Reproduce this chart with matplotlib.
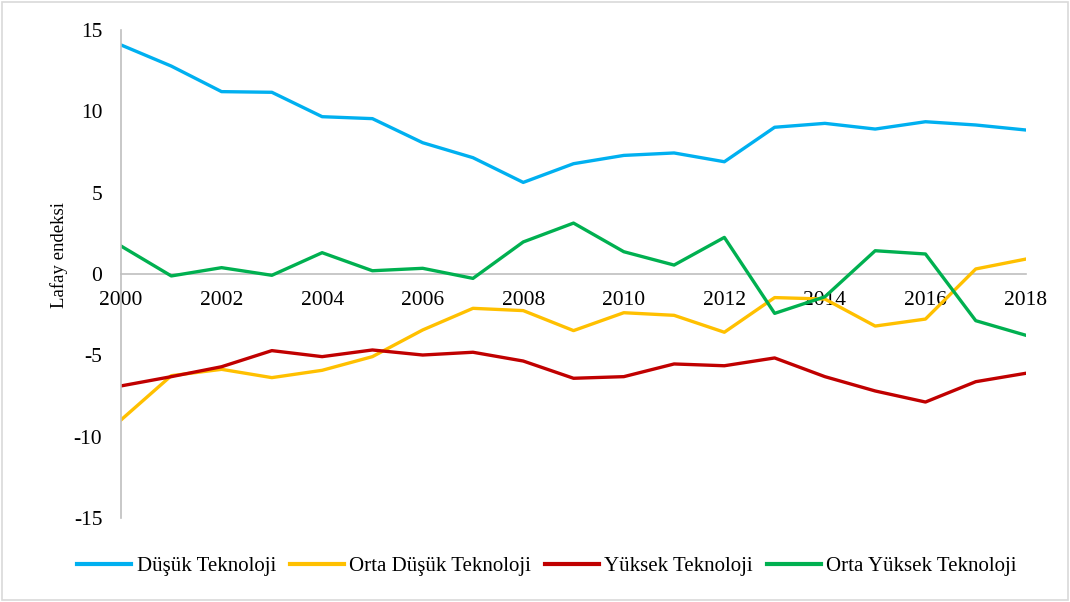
import matplotlib
matplotlib.use("Agg")
import matplotlib.pyplot as plt
from matplotlib.patches import Rectangle

years = list(range(2000, 2019))
dusuk = [14.08, 12.78, 11.21, 11.17, 9.67, 9.55, 8.07, 7.15, 5.63, 6.78,
         7.29, 7.44, 6.90, 9.02, 9.26, 8.91, 9.36, 9.16, 8.85]
orta_dusuk = [-8.97, -6.25, -5.86, -6.37, -5.92, -5.08, -3.44, -2.11, -2.25, -3.48,
              -2.38, -2.54, -3.58, -1.45, -1.54, -3.20, -2.77, 0.31, 0.92]
yuksek = [-6.88, -6.31, -5.70, -4.71, -5.08, -4.67, -4.98, -4.81, -5.35, -6.41,
          -6.31, -5.53, -5.64, -5.16, -6.31, -7.19, -7.87, -6.62, -6.10]
orta_yuksek = [1.72, -0.12, 0.39, -0.08, 1.31, 0.20, 0.35, -0.27, 1.97, 3.13,
               1.37, 0.55, 2.25, -2.42, -1.40, 1.43, 1.23, -2.87, -3.77]

series_names = ["Düşük Teknoloji", "Orta Düşük Teknoloji", "Yüksek Teknoloji", "Orta Yüksek Teknoloji"]
colors = ["#00B0F0", "#FFC000", "#C00000", "#00B050"]
xticks = list(range(2000, 2019, 2))
yticks = [-15, -10, -5, 0, 5, 10, 15]

plt.rcParams['font.family'] = ['Liberation Serif', 'DejaVu Serif']

fig = plt.figure(figsize=(10.70, 6.02), dpi=100)
ax = fig.add_axes([0.1131, 0.1395, 0.9589 - 0.1131, 0.9502 - 0.1395])

for vals, name, c in zip([dusuk, orta_dusuk, yuksek, orta_yuksek], series_names, colors):
    ax.plot(years, vals, color=c, lw=2.4, label=name, solid_joinstyle='round')

ax.set_xlim(2000, 2018)
ax.set_ylim(-15, 15)
ax.set_yticks(yticks)
ax.set_yticklabels([str(v) for v in yticks])
ax.set_xticks(xticks)
ax.set_xticklabels([str(v) for v in xticks])

for s in ['top', 'right']:
    ax.spines[s].set_visible(False)
ax.spines['left'].set_color('#BFBFBF')
ax.spines['left'].set_linewidth(1.2)
ax.spines['bottom'].set_position(('data', 0))
ax.spines['bottom'].set_color('#BFBFBF')
ax.spines['bottom'].set_linewidth(1.2)
ax.spines['bottom'].set_zorder(0.5)
ax.tick_params(axis='both', length=0, labelsize=15.5, colors='black')
ax.tick_params(axis='y', pad=13.5)
ax.tick_params(axis='x', pad=12)

ax.set_ylabel("Lafay endeksi", fontsize=13.5)
ax.yaxis.set_label_coords(-0.059, 0.539)

leg = fig.legend(loc='center', bbox_to_anchor=(547 / 1070, 1 - 566 / 602), ncol=4,
                 frameon=False, fontsize=15, handlelength=2.6, handletextpad=0.25,
                 columnspacing=0.67)
for l in leg.get_lines():
    l.set_linewidth(3)

fig.patches.append(Rectangle((0.002, 0.004), 0.996, 0.993, transform=fig.transFigure,
                             fill=False, edgecolor='#D9D9D9', lw=1.2))

fig.savefig("out.png", dpi=100)
